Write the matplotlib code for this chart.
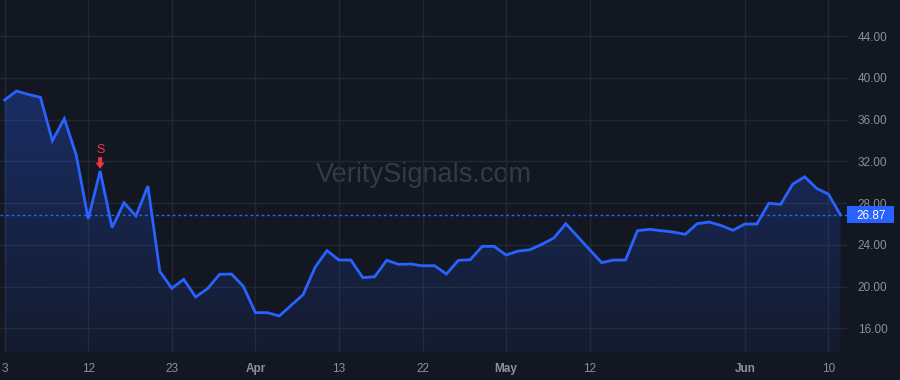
import numpy as np
import matplotlib
matplotlib.use("Agg")
import matplotlib.pyplot as plt
from matplotlib.patches import Rectangle
from matplotlib.transforms import offset_copy

# daily closes, one per trading bar
prices = [37.87, 38.73, 38.40, 38.13, 33.97, 36.08, 32.60, 26.47, 31.07, 25.64,
          28.03, 26.76, 29.63, 21.45, 19.83, 20.69, 19.00, 19.80, 21.17, 21.20,
          20.02, 17.50, 17.50, 17.18, 18.20, 19.22, 21.84, 23.44, 22.54, 22.54,
          20.85, 20.95, 22.52, 22.13, 22.16, 21.99, 22.00, 21.20, 22.51, 22.57,
          23.85, 23.85, 23.02, 23.40, 23.53, 24.05, 24.65, 26.02, 24.78, 23.53,
          22.29, 22.54, 22.54, 25.35, 25.48, 25.35, 25.22, 25.00, 26.02, 26.18,
          25.85, 25.39, 25.99, 25.99, 27.97, 27.88, 29.80, 30.52, 29.41, 28.84,
          26.87]
tick_pos = [0, 7, 14, 21, 28, 35, 42, 49, 62, 69]
tick_labels = ["3", "12", "23", "Apr", "13", "22", "May", "12", "Jun", "10"]
month_labels = ["Apr", "May", "Jun"]
y_ticks = [16, 20, 24, 28, 32, 36, 40, 44]
sell_bar = 8
last_price = prices[-1]

bg = "#131722"
grid_c = "#232733"
line_c = "#2962ff"
text_c = "#8c909b"
red = "#f23645"
fam = ["Liberation Sans", "DejaVu Sans"]

x = np.arange(len(prices))
y = np.array(prices)

fig = plt.figure(figsize=(9, 3.8), dpi=100, facecolor=bg)
ax = fig.add_axes([0, 28 / 380, 847 / 900, 352 / 380])
ax.set_facecolor(bg)

x0, x1 = -0.385, 70.55
y0, y1 = 13.73, 47.45
ax.set_xlim(x0, x1)
ax.set_ylim(y0, y1)

# gradient area under the line
grad = np.linspace(0.30, 0.06, 256).reshape(-1, 1)
rgba = np.zeros((256, 1, 4))
rgba[..., :3] = matplotlib.colors.to_rgb(line_c)
rgba[..., 3] = grad
im = ax.imshow(rgba, extent=[x0, x1, y0, y.max()], aspect="auto", origin="upper", zorder=1)
poly = ax.fill_between(x, y, y0, color="none", lw=0)
im.set_clip_path(poly.get_paths()[0], transform=ax.transData)

ax.plot(x, y, color=line_c, lw=2, zorder=3, solid_joinstyle="miter")
ax.axhline(last_price, color=line_c, lw=1, ls=(0, (2, 2)), zorder=2)

ax.set_xticks(tick_pos)
ax.set_xticklabels(tick_labels)
ax.set_yticks(y_ticks)
ax.set_yticklabels([f"{v:.2f}" for v in y_ticks])
ax.yaxis.tick_right()
ax.tick_params(axis="y", length=0, pad=7.7, labelsize=8.5, labelcolor=text_c)
ax.tick_params(axis="x", length=0, pad=8, labelsize=8.5, labelcolor=text_c)
for lbl in ax.get_xticklabels():
    lbl.set_fontfamily(fam)
    if lbl.get_text() in month_labels:
        lbl.set_fontweight("bold")
for lbl in ax.get_yticklabels():
    lbl.set_fontfamily(fam)
ax.grid(True, color=grid_c, lw=1)
ax.set_axisbelow(True)
for s in ax.spines.values():
    s.set_visible(False)

# watermark
ax.text(0.5, 0.484, "VeritySignals.com", transform=ax.transAxes, ha="center", va="baseline",
        fontsize=19.5, color="#363a47", family=fam, zorder=0)

# last price tag
fig.canvas.draw()
py = ax.transData.transform((0, last_price))[1]
fig.patches.append(Rectangle((847, py - 8.4), 47, 16.8, transform=None,
                             fc=line_c, ec="none", zorder=5))
fig.text(871 / 900, py / 380, f"{last_price:.2f}", ha="center", va="center_baseline",
         fontsize=8.5, color="white", family=fam, zorder=6)

# sell signal
sv = prices[sell_bar]
ax.text(sell_bar, sv, "S", color=red, fontsize=9, ha="center", va="center",
        family=fam,
        transform=offset_copy(ax.transData, fig=fig, x=0, y=15, units="points"), zorder=5)
tip = offset_copy(ax.transData, fig=fig, x=0, y=2.0, units="points")
tail = offset_copy(ax.transData, fig=fig, x=0, y=9.6, units="points")
ax.annotate("", xy=(sell_bar, sv), xycoords=tip, xytext=(sell_bar, sv), textcoords=tail,
            arrowprops=dict(arrowstyle="simple,head_length=0.38,head_width=0.55,tail_width=0.25",
                            fc=red, ec=red, lw=0.5, shrinkA=0, shrinkB=0), zorder=5)

fig.savefig("out.png", dpi=100, facecolor=bg)
